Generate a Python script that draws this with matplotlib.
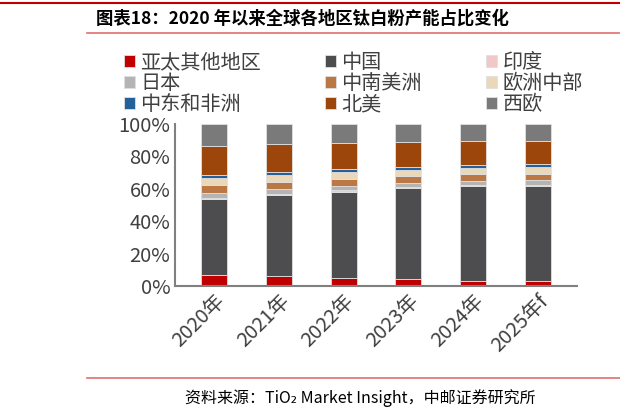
import matplotlib
matplotlib.use("Agg")
import matplotlib.pyplot as plt
from matplotlib.ticker import PercentFormatter
from matplotlib.lines import Line2D

plt.rcParams['font.family'] = ['Noto Sans CJK SC', 'DejaVu Sans']

years = ["2020年", "2021年", "2022年", "2023年", "2024年", "2025年f"]
series_names = ["亚太其他地区", "中国", "印度", "日本", "中南美洲", "欧洲中部", "中东和非洲", "北美", "西欧"]
colors = ["#C00000", "#4D4D4F", "#F0C8C8", "#B4B4B4", "#BC7844", "#EAD8B8", "#24609A", "#9C460C", "#7A7A7A"]
apac_other = [6.8, 6.0, 4.9, 4.3, 2.9, 2.9]
china = [47.1, 50.4, 53.3, 56.0, 58.6, 58.8]
india = [0.3, 0.3, 0.9, 0.8, 0.8, 0.9]
japan = [3.3, 3.1, 2.6, 2.7, 2.5, 2.6]
cs_america = [4.7, 4.4, 4.3, 4.3, 4.1, 4.1]
central_europe = [4.4, 4.1, 4.2, 3.5, 3.9, 4.2]
me_africa = [2.2, 2.1, 2.0, 2.1, 2.1, 2.0]
north_america = [17.7, 17.0, 16.1, 15.2, 14.8, 14.2]
west_europe = [13.8, 12.6, 11.7, 11.1, 10.3, 10.3]
data = [apac_other, china, india, japan, cs_america, central_europe, me_africa, north_america, west_europe]

fig = plt.figure(figsize=(6.2, 4.18), dpi=100)
ax = fig.add_axes([175/620, 1-286/418, (577-175)/620, (286-124)/418])
x = list(range(len(years)))
bottom = [0]*len(years)
handles = []
for name, vals, c in zip(series_names, data, colors):
    b = ax.bar(x, vals, 0.4, bottom=bottom, color=c, edgecolor='#E0E0E0', linewidth=0.6, label=name)
    handles.append(b)
    bottom = [p+q for p, q in zip(bottom, vals)]

ax.set_ylim(0, 100)
ax.set_xlim(-0.6, 5.6)
ax.set_yticks(range(0, 101, 20))
ax.yaxis.set_major_formatter(PercentFormatter(decimals=0))
ax.set_xticks(x)
ax.set_xticklabels(years, rotation=45, ha='right', rotation_mode='anchor', fontsize=14.5, color='#404040')
ax.tick_params(axis='y', labelsize=14.5, colors='#404040', length=0)
ax.tick_params(axis='x', length=0)
for s in ['top', 'right']:
    ax.spines[s].set_visible(False)
for s in ['left', 'bottom']:
    ax.spines[s].set_color('#808080')
    ax.spines[s].set_linewidth(1.5)

order = [0, 3, 6, 1, 4, 7, 2, 5, 8]
leg = fig.legend([handles[i] for i in order], [series_names[i] for i in order], loc='upper left',
                 bbox_to_anchor=(116/620, 1-44/418), ncol=3,
                 frameon=False, fontsize=14.5, handlelength=0.55, handleheight=0.55, handletextpad=0.25,
                 columnspacing=3.2, labelspacing=0.0, borderaxespad=0, labelcolor='#404040')

fig.add_artist(Line2D([0, 1], [1-3/418]*2, color='#C00000', lw=1.5))
fig.add_artist(Line2D([0.14, 1], [1-33/418]*2, color='#E07070', lw=1.2))
fig.add_artist(Line2D([0.14, 1], [1-378/418]*2, color='#E07070', lw=1.2))
fig.text(96/620, 1-19/418, "图表18：2020 年以来全球各地区钛白粉产能占比变化", fontsize=12.5, fontweight='bold', va='center')
fig.text(360/620, 1-398/418, "资料来源：TiO₂ Market Insight，中邮证券研究所", fontsize=11.5, va='center', ha='center',
         family=['Noto Sans CJK SC', 'DejaVu Sans'])
fig.savefig("out.png", dpi=100)
